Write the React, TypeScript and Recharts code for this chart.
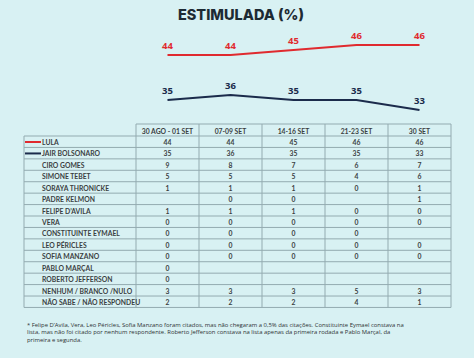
import React from 'react';
import { LineChart, Line, XAxis, YAxis, LabelList } from 'recharts';

const periods = ['30 AGO - 01 SET', '07-09 SET', '14-16 SET', '21-23 SET', '30 SET'];
const lula = [44, 44, 45, 46, 46];
const bolsonaro = [35, 36, 35, 35, 33];

const candidates = [
  'LULA',
  'JAIR BOLSONARO',
  'CIRO GOMES',
  'SIMONE TEBET',
  'SORAYA THRONICKE',
  'PADRE KELMON',
  'FELIPE D’AVILA',
  'VERA',
  'CONSTITUINTE EYMAEL',
  'LEO PÉRICLES',
  'SOFIA MANZANO',
  'PABLO MARÇAL',
  'ROBERTO JEFFERSON',
  'NENHUM / BRANCO /NULO',
  'NÃO SABE / NÃO RESPONDEU',
];
const ciro = [9, 8, 7, 6, 7];
const simone = [5, 5, 5, 4, 6];
const soraya = [1, 1, 1, 0, 1];
const padre = [null, 0, 0, null, 1];
const felipe = [1, 1, 1, 0, 0];
const vera = [0, 0, 0, 0, 0];
const eymael = [0, 0, 0, 0, null];
const leo = [0, 0, 0, 0, 0];
const sofia = [0, 0, 0, 0, 0];
const pablo = [0, null, null, null, null];
const roberto = [0, null, null, null, null];
const nenhum = [3, 3, 3, 5, 3];
const naoSabe = [2, 2, 2, 4, 1];

const tableValues: (number | null)[][] = [
  lula, bolsonaro, ciro, simone, soraya, padre, felipe, vera, eymael, leo, sofia, pablo, roberto, nenhum, naoSabe,
];

const footnote = [
  '* Felipe D’Avila, Vera, Leo Péricles, Sofia Manzano foram citados, mas não chegaram a 0,5% das citações. Constituinte Eymael constava na',
  'lista, mas não foi citado por nenhum respondente. Roberto Jefferson constava na lista apenas da primeira rodada e Pablo Marçal, da',
  'primeira e segunda.',
];

const RED = '#e02a2f';
const NAVY = '#1b2b4b';
const BG = '#d8f1f3';
const GRID = '#93abb0';
const TXT = '#3b3f42';

const chartData = periods.map((p, i) => ({ period: p, lula: lula[i], bolsonaro: bolsonaro[i] }));

const TABLE_LEFT = 24;
const COL0 = 136;
const COLW = 63;
const HEAD_TOP = 124;
const HEAD_BOT = 136;
const ROWH = 11.43;

function Table() {
  const nRows = candidates.length;
  const bottom = HEAD_BOT + nRows * ROWH;
  const right = COL0 + COLW * periods.length;
  const lines: React.ReactNode[] = [];
  lines.push(<line key="ht" x1={COL0} x2={right} y1={HEAD_TOP} y2={HEAD_TOP} stroke={GRID} strokeWidth={1} />);
  for (let i = 0; i <= nRows; i++) {
    const y = HEAD_BOT + i * ROWH;
    lines.push(<line key={'h' + i} x1={TABLE_LEFT} x2={right} y1={y} y2={y} stroke={GRID} strokeWidth={1} />);
  }
  lines.push(<line key="vl" x1={TABLE_LEFT} x2={TABLE_LEFT} y1={HEAD_BOT} y2={bottom} stroke={GRID} strokeWidth={1} />);
  for (let j = 0; j <= periods.length; j++) {
    const x = COL0 + j * COLW;
    lines.push(<line key={'v' + j} x1={x} x2={x} y1={HEAD_TOP} y2={bottom} stroke={GRID} strokeWidth={1} />);
  }
  const font = "Lato, 'Open Sans', sans-serif";
  return (
    <g>
      {lines}
      {periods.map((p, j) => (
        <text key={'p' + j} x={COL0 + COLW * (j + 0.5)} y={(HEAD_TOP + HEAD_BOT) / 2 + 0.5} textAnchor="middle" dominantBaseline="central" fontFamily={font} fontWeight={700} fontSize={6.8} fill={TXT}>{p}</text>
      ))}
      {candidates.map((c, i) => {
        const cy = HEAD_BOT + (i + 0.5) * ROWH + 0.3;
        return (
          <g key={'r' + i}>
            {i === 0 && <line x1={25} x2={41} y1={cy} y2={cy} stroke={RED} strokeWidth={2} />}
            {i === 1 && <line x1={25} x2={41} y1={cy} y2={cy} stroke={NAVY} strokeWidth={2} />}
            <text x={42} y={cy} dominantBaseline="central" fontFamily={font} fontWeight={700} fontSize={6.8} fill={TXT}>{c}</text>
            {tableValues[i].map((v, j) => v === null ? null : (
              <text key={j} x={COL0 + COLW * (j + 0.5)} y={cy} textAnchor="middle" dominantBaseline="central" fontFamily={font} fontWeight={700} fontSize={6.8} fill={TXT}>{v}</text>
            ))}
          </g>
        );
      })}
    </g>
  );
}

export default function App() {
  return (
    <div style={{ position: 'absolute', left: 0, top: 0, width: 474, height: 358, background: BG, overflow: 'hidden' }}>
      <svg width={474} height={358} style={{ position: 'absolute', left: 0, top: 0 }}>
        <text x={241} y={14} textAnchor="middle" dominantBaseline="central" fontFamily="Inter, 'Open Sans', sans-serif" fontWeight={800} fontSize={14.5} fill="#1d2a33">ESTIMULADA (%)</text>
        <Table />
        {footnote.map((l, i) => (
          <text key={i} x={27} y={325 + i * 7.4} dominantBaseline="central" fontFamily="'Open Sans', sans-serif" fontSize={5.9} fill="#2e3133">{l}</text>
        ))}
      </svg>
      <div style={{ position: 'absolute', left: 0, top: 0 }}>
        <LineChart width={474} height={358} data={chartData} margin={{ top: 25, right: 23, bottom: 233, left: 136 }}>
          <XAxis dataKey="period" hide padding={{ left: 31.5, right: 31.5 }} />
          <YAxis hide domain={[30, 50]} />
          <Line type="linear" dataKey="lula" stroke={RED} strokeWidth={2} dot={false} isAnimationActive={false}>
            <LabelList dataKey="lula" position="top" offset={6} fill={RED} fontSize={9.5} fontWeight={700} fontFamily="'Open Sans', sans-serif" />
          </Line>
          <Line type="linear" dataKey="bolsonaro" stroke={NAVY} strokeWidth={2} dot={false} isAnimationActive={false}>
            <LabelList dataKey="bolsonaro" position="top" offset={6} fill={NAVY} fontSize={9.5} fontWeight={700} fontFamily="'Open Sans', sans-serif" />
          </Line>
        </LineChart>
      </div>
    </div>
  );
}
